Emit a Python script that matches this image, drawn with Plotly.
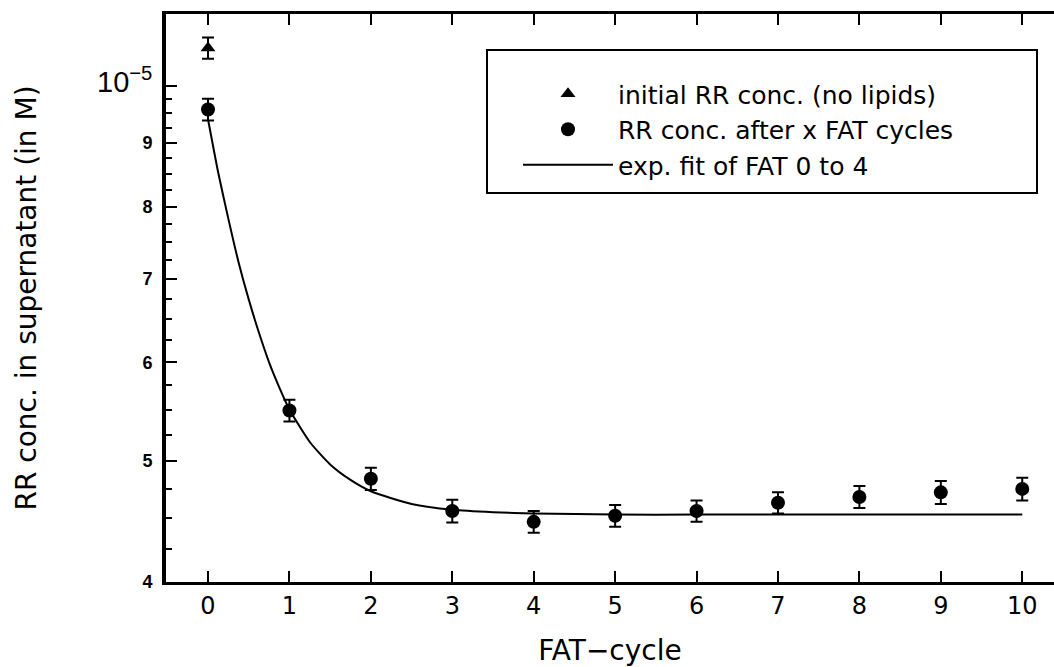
import plotly.graph_objects as go

# ---- data ----
tri_x = [0]
tri_y = [1.072e-5]
tri_err = [0.21e-6]

fat_x = [0, 1, 2, 3, 4, 5, 6, 7, 8, 9, 10]
fat_y = [9.57e-6, 5.49e-6, 4.84e-6, 4.56e-6, 4.47e-6, 4.52e-6, 4.56e-6, 4.63e-6, 4.68e-6, 4.72e-6, 4.75e-6]
fat_err = [0.19e-6, 0.11e-6, 0.10e-6, 0.095e-6, 0.09e-6, 0.09e-6, 0.09e-6, 0.09e-6, 0.095e-6, 0.10e-6, 0.10e-6]

fit_x = [0, 0.125, 0.25, 0.375, 0.5, 0.625, 0.75, 0.875, 1.0, 1.25, 1.5, 1.75, 2.0,
         2.5, 3.0, 3.5, 4.0, 5, 6, 7, 8, 9, 10]
fit_y = [9.40e-6, 8.52e-6, 7.82e-6, 7.22e-6, 6.74e-6, 6.34e-6, 6.00e-6, 5.73e-6, 5.50e-6,
         5.18e-6, 4.97e-6, 4.83e-6, 4.73e-6, 4.62e-6, 4.57e-6, 4.55e-6, 4.54e-6,
         4.53e-6, 4.53e-6, 4.53e-6, 4.53e-6, 4.53e-6, 4.53e-6]

x_ticks = [0, 1, 2, 3, 4, 5, 6, 7, 8, 9, 10]
y_tickvals = [4e-6, 5e-6, 6e-6, 7e-6, 8e-6, 9e-6, 1e-5]
y_ticktext = ["<b>4</b>", "<b>5</b>", "<b>6</b>", "<b>7</b>", "<b>8</b>", "<b>9</b>",
              '<span style="font-size:29px">10<sup>−5</sup></span>']
y_minor = [4.25e-6, 4.5e-6, 4.75e-6, 5.25e-6, 5.5e-6, 5.75e-6, 6.25e-6, 6.5e-6, 6.75e-6,
           7.25e-6, 7.5e-6, 7.75e-6, 8.25e-6, 8.5e-6, 8.75e-6, 9.25e-6, 9.5e-6, 9.75e-6]

FONT = "DejaVu Sans"

fig = go.Figure()

fig.add_trace(go.Scatter(
    x=fit_x, y=fit_y, mode="lines", name="exp. fit of FAT 0 to 4",
    line=dict(color="black", width=2, shape="spline", smoothing=0.6),
    legendrank=3,
))
fig.add_trace(go.Scatter(
    x=tri_x, y=tri_y, mode="markers", name="initial RR conc. (no lipids)",
    marker=dict(symbol="triangle-up", size=13, color="black"),
    error_y=dict(type="data", array=tri_err, color="black", thickness=2, width=6),
    legendrank=1,
))
fig.add_trace(go.Scatter(
    x=fat_x, y=fat_y, mode="markers", name="RR conc. after x FAT cycles",
    marker=dict(symbol="circle", size=14, color="black"),
    error_y=dict(type="data", array=fat_err, color="black", thickness=2, width=6),
    legendrank=2,
))

W, H = 1054, 667
ml, mr, mt, mb = 166, 0, 14, 85
pw, ph = W - ml - mr, H - mt - mb

def px_x(p):
    return (p - ml) / pw

def px_y(p):
    return (H - mb - p) / ph

fig.add_shape(type="rect", xref="paper", yref="paper",
              x0=px_x(487), x1=px_x(1037), y0=px_y(193), y1=px_y(50),
              line=dict(color="black", width=2), fillcolor="rgba(0,0,0,0)")

fig.update_layout(
    width=W, height=H,
    margin=dict(l=ml, r=mr, t=mt, b=mb, autoexpand=False),
    paper_bgcolor="white", plot_bgcolor="white",
    font=dict(family=FONT, color="black", size=24),
    showlegend=True,
    legend=dict(
        x=px_x(518), y=px_y(71), xanchor="left", yanchor="top",
        bgcolor="rgba(0,0,0,0)", borderwidth=0,
        font=dict(family=FONT, size=25, color="black"),
        tracegroupgap=0, itemwidth=90,
    ),
    xaxis=dict(
        range=[-0.516, 10.39],
        tickmode="array", tickvals=x_ticks, ticktext=[str(v) for v in x_ticks],
        ticks="inside", ticklen=11, tickwidth=2, tickcolor="black",
        showline=True, linecolor="black", linewidth=3, mirror="ticks",
        showgrid=False, zeroline=False,
        tickfont=dict(family=FONT, size=24),
        title=dict(text="FAT−cycle", font=dict(family=FONT, size=28), standoff=22),
    ),
    yaxis=dict(
        type="log",
        range=[-5.39794, -4.9425],
        tickmode="array", tickvals=y_tickvals, ticktext=y_ticktext,
        ticks="inside", ticklen=11, tickwidth=2, tickcolor="black",
        minor=dict(tickmode="array", tickvals=y_minor, ticks="inside", ticklen=6,
                   tickwidth=2, tickcolor="black", showgrid=False),
        showline=True, linecolor="black", linewidth=4, mirror=False,
        showgrid=False, zeroline=False,
        tickfont=dict(family="Liberation Sans", size=18),
        ticklabelstandoff=6,
        title=dict(text="RR conc. in supernatant (in M)", font=dict(family=FONT, size=28), standoff=53),
    ),
)

fig.write_html("out.html")
